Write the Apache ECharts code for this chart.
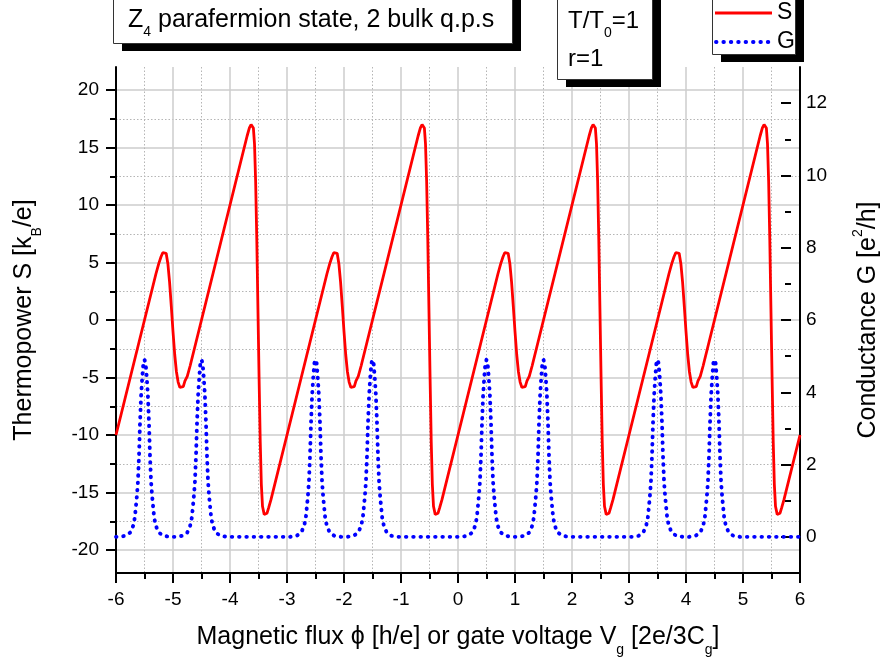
<!DOCTYPE html>
<html>
<head>
<meta charset="utf-8">
<script src="https://cdn.jsdelivr.net/npm/echarts@6/dist/echarts.min.js"></script>
<style>html,body{margin:0;padding:0;background:#fff}#c{width:889px;height:663px}</style>
</head>
<body>
<div id="c"></div>
<script>
// ---- Data ----
// Thermopower S [kB/e] (left axis)
const sX = [
  -6, -5.5, -5.3, -5.25, -5.21, -5.18, -5.15, -5.12, -5.09, -5.06, -5.03, -5.0, -4.97, -4.94, -4.91, -4.88, -4.85, -4.82, -4.79, -4.75, -4.7, -4.5, -3.7, -3.66, -3.63, -3.61, -3.59, -3.57, -3.55, -3.53, -3.51, -3.49, -3.47, -3.45, -3.43, -3.4, -3.38, -3.35, -3.32, -3.28,
  -3, -2.5, -2.3, -2.25, -2.21, -2.18, -2.15, -2.12, -2.09, -2.06, -2.03, -2.0, -1.97, -1.94, -1.91, -1.88, -1.85, -1.82, -1.79, -1.75, -1.7, -1.5, -0.7, -0.66, -0.63, -0.61, -0.59, -0.57, -0.55, -0.53, -0.51, -0.49, -0.47, -0.45, -0.43, -0.4, -0.38, -0.35, -0.32, -0.28,
  0, 0.5, 0.7, 0.75, 0.79, 0.82, 0.85, 0.88, 0.91, 0.94, 0.97, 1.0, 1.03, 1.06, 1.09, 1.12, 1.15, 1.18, 1.21, 1.25, 1.3, 1.5, 2.3, 2.34, 2.37, 2.39, 2.41, 2.43, 2.45, 2.47, 2.49, 2.51, 2.53, 2.55, 2.57, 2.6, 2.62, 2.65, 2.68, 2.72,
  3, 3.5, 3.7, 3.75, 3.79, 3.82, 3.85, 3.88, 3.91, 3.94, 3.97, 4.0, 4.03, 4.06, 4.09, 4.12, 4.15, 4.18, 4.21, 4.25, 4.3, 4.5, 5.3, 5.34, 5.37, 5.39, 5.41, 5.43, 5.45, 5.47, 5.49, 5.51, 5.53, 5.55, 5.57, 5.6, 5.62, 5.65, 5.68, 5.72,
  6
];
const sY = [
  -10, 0, 4.0, 4.9, 5.5, 5.85, 6.0, 5.8, 4.9, 3.3, 1.2, -1.0, -3.0, -4.5, -5.4, -5.85, -6.0, -5.8, -5.3, -4.9, -4.0, 0, 16.0, 16.7, 17.0, 17.1, 16.7, 15.3, 12.0, 7.0, 1.0, -5.0, -10.5, -14.3, -16.2, -16.9, -17.0, -16.8, -16.3, -15.6,
  -10, 0, 4.0, 4.9, 5.5, 5.85, 6.0, 5.8, 4.9, 3.3, 1.2, -1.0, -3.0, -4.5, -5.4, -5.85, -6.0, -5.8, -5.3, -4.9, -4.0, 0, 16.0, 16.7, 17.0, 17.1, 16.7, 15.3, 12.0, 7.0, 1.0, -5.0, -10.5, -14.3, -16.2, -16.9, -17.0, -16.8, -16.3, -15.6,
  -10, 0, 4.0, 4.9, 5.5, 5.85, 6.0, 5.8, 4.9, 3.3, 1.2, -1.0, -3.0, -4.5, -5.4, -5.85, -6.0, -5.8, -5.3, -4.9, -4.0, 0, 16.0, 16.7, 17.0, 17.1, 16.7, 15.3, 12.0, 7.0, 1.0, -5.0, -10.5, -14.3, -16.2, -16.9, -17.0, -16.8, -16.3, -15.6,
  -10, 0, 4.0, 4.9, 5.5, 5.85, 6.0, 5.8, 4.9, 3.3, 1.2, -1.0, -3.0, -4.5, -5.4, -5.85, -6.0, -5.8, -5.3, -4.9, -4.0, 0, 16.0, 16.7, 17.0, 17.1, 16.7, 15.3, 12.0, 7.0, 1.0, -5.0, -10.5, -14.3, -16.2, -16.9, -17.0, -16.8, -16.3, -15.6,
  -10
];
// Conductance G [e^2/h] (right axis)
const gX = [
  -6,
  -5.95, -5.83, -5.75, -5.7, -5.67, -5.645, -5.63, -5.615, -5.595, -5.58, -5.56, -5.54, -5.52, -5.5, -5.48, -5.46, -5.44, -5.42, -5.405, -5.385, -5.37, -5.355, -5.33, -5.3, -5.25, -5.17, -5.05,
  -4.95, -4.83, -4.75, -4.7, -4.67, -4.645, -4.63, -4.615, -4.595, -4.58, -4.56, -4.54, -4.52, -4.5, -4.48, -4.46, -4.44, -4.42, -4.405, -4.385, -4.37, -4.355, -4.33, -4.3, -4.25, -4.17, -4.05,
  -2.95, -2.83, -2.75, -2.7, -2.67, -2.645, -2.63, -2.615, -2.595, -2.58, -2.56, -2.54, -2.52, -2.5, -2.48, -2.46, -2.44, -2.42, -2.405, -2.385, -2.37, -2.355, -2.33, -2.3, -2.25, -2.17, -2.05,
  -1.95, -1.83, -1.75, -1.7, -1.67, -1.645, -1.63, -1.615, -1.595, -1.58, -1.56, -1.54, -1.52, -1.5, -1.48, -1.46, -1.44, -1.42, -1.405, -1.385, -1.37, -1.355, -1.33, -1.3, -1.25, -1.17, -1.05,
  0.05, 0.17, 0.25, 0.3, 0.33, 0.355, 0.37, 0.385, 0.405, 0.42, 0.44, 0.46, 0.48, 0.5, 0.52, 0.54, 0.56, 0.58, 0.595, 0.615, 0.63, 0.645, 0.67, 0.7, 0.75, 0.83, 0.95,
  1.05, 1.17, 1.25, 1.3, 1.33, 1.355, 1.37, 1.385, 1.405, 1.42, 1.44, 1.46, 1.48, 1.5, 1.52, 1.54, 1.56, 1.58, 1.595, 1.615, 1.63, 1.645, 1.67, 1.7, 1.75, 1.83, 1.95,
  3.05, 3.17, 3.25, 3.3, 3.33, 3.355, 3.37, 3.385, 3.405, 3.42, 3.44, 3.46, 3.48, 3.5, 3.52, 3.54, 3.56, 3.58, 3.595, 3.615, 3.63, 3.645, 3.67, 3.7, 3.75, 3.83, 3.95,
  4.05, 4.17, 4.25, 4.3, 4.33, 4.355, 4.37, 4.385, 4.405, 4.42, 4.44, 4.46, 4.48, 4.5, 4.52, 4.54, 4.56, 4.58, 4.595, 4.615, 4.63, 4.645, 4.67, 4.7, 4.75, 4.83, 4.95,
  6
];
const gY = [
  0,
  0, 0.03, 0.12, 0.3, 0.53, 0.93, 1.2, 1.53, 2.3, 3.1, 3.9, 4.4, 4.8, 4.9, 4.8, 4.4, 3.9, 3.1, 2.3, 1.53, 1.2, 0.93, 0.53, 0.3, 0.12, 0.03, 0,
  0, 0.03, 0.12, 0.3, 0.53, 0.93, 1.2, 1.53, 2.3, 3.1, 3.9, 4.4, 4.8, 4.9, 4.8, 4.4, 3.9, 3.1, 2.3, 1.53, 1.2, 0.93, 0.53, 0.3, 0.12, 0.03, 0,
  0, 0.03, 0.12, 0.3, 0.53, 0.93, 1.2, 1.53, 2.3, 3.1, 3.9, 4.4, 4.8, 4.9, 4.8, 4.4, 3.9, 3.1, 2.3, 1.53, 1.2, 0.93, 0.53, 0.3, 0.12, 0.03, 0,
  0, 0.03, 0.12, 0.3, 0.53, 0.93, 1.2, 1.53, 2.3, 3.1, 3.9, 4.4, 4.8, 4.9, 4.8, 4.4, 3.9, 3.1, 2.3, 1.53, 1.2, 0.93, 0.53, 0.3, 0.12, 0.03, 0,
  0, 0.03, 0.12, 0.3, 0.53, 0.93, 1.2, 1.53, 2.3, 3.1, 3.9, 4.4, 4.8, 4.9, 4.8, 4.4, 3.9, 3.1, 2.3, 1.53, 1.2, 0.93, 0.53, 0.3, 0.12, 0.03, 0,
  0, 0.03, 0.12, 0.3, 0.53, 0.93, 1.2, 1.53, 2.3, 3.1, 3.9, 4.4, 4.8, 4.9, 4.8, 4.4, 3.9, 3.1, 2.3, 1.53, 1.2, 0.93, 0.53, 0.3, 0.12, 0.03, 0,
  0, 0.03, 0.12, 0.3, 0.53, 0.93, 1.2, 1.53, 2.3, 3.1, 3.9, 4.4, 4.8, 4.9, 4.8, 4.4, 3.9, 3.1, 2.3, 1.53, 1.2, 0.93, 0.53, 0.3, 0.12, 0.03, 0,
  0, 0.03, 0.12, 0.3, 0.53, 0.93, 1.2, 1.53, 2.3, 3.1, 3.9, 4.4, 4.8, 4.9, 4.8, 4.4, 3.9, 3.1, 2.3, 1.53, 1.2, 0.93, 0.53, 0.3, 0.12, 0.03, 0,
  0
];
// Axis ranges / tick spacing
const xRange = [-6, 6], xStep = 1;
const sRange = [-22, 22], sTickRange = [-20, 20], sStep = 5;
const gRange = [-1, 13], gTickRange = [0, 12], gStep = 2;
// Texts
const xTitle = 'Magnetic flux \u03d5 [h/e] or gate voltage V{sub|g} [2e/3C{sub|g}]';
const sTitle = 'Thermopower S [k{sub|B}/e]';
const gTitle = 'Conductance G [e{sup|2}/h]';
const boxTitle = 'Z{sub|4} parafermion state, 2 bulk q.p.s';
const boxParam1 = 'T/T{sub|0}=1';
const boxParam2 = 'r=1';
const legendNames = ['S', 'G'];

// ---- Styling ----
const FONT = '"Liberation Sans", Arial, Helvetica, sans-serif';
const BLACK = '#000';
const richSub = {
  sub: { fontSize: 14, fontFamily: FONT, color: BLACK, padding: [25, 0, 0, 0] },
  sup: { fontSize: 14, fontFamily: FONT, color: BLACK, padding: [0, 0, 21, 0] }
};
const nameStyle = { fontSize: 25, fontFamily: FONT, color: BLACK, rich: richSub };
const tickLine = { color: BLACK, width: 2 };
const labelStyle = { color: BLACK, fontSize: 19, fontFamily: FONT };
const majorGrid = { color: '#cccccc', width: 1.5, type: 'solid' };
const minorGrid = { color: '#b5b5b5', width: 1, type: [1.5, 2] };

const plot = { left: 116, right: 89, top: 67, bottom: 90 };
const plotH = 663 - plot.top - plot.bottom;
const sPx = plotH / (sRange[1] - sRange[0]);
const gPx = plotH / (gRange[1] - gRange[0]);

const chart = echarts.init(document.getElementById('c'), null, { renderer: 'canvas' });

const option = {
  animation: false,
  backgroundColor: '#fff',
  textStyle: { fontFamily: FONT },
  grid: [
    { left: plot.left, right: plot.right, top: plot.top, bottom: plot.bottom },
    { left: plot.left, right: plot.right,
      top: plot.top + (sRange[1] - sTickRange[1]) * sPx,
      bottom: plot.bottom + (sTickRange[0] - sRange[0]) * sPx },
    { left: plot.left, right: plot.right,
      top: plot.top + (gRange[1] - gTickRange[1]) * gPx,
      bottom: plot.bottom + (gTickRange[0] - gRange[0]) * gPx }
  ],
  xAxis: [
    {
      gridIndex: 0, type: 'value', min: xRange[0], max: xRange[1], interval: xStep, position: 'bottom',
      axisLine: { onZero: false, lineStyle: tickLine },
      axisTick: { show: true, length: 10, lineStyle: tickLine },
      minorTick: { show: true, splitNumber: 2, length: 6, lineStyle: tickLine },
      axisLabel: Object.assign({ margin: 17 }, labelStyle),
      splitLine: { show: true, lineStyle: majorGrid },
      minorSplitLine: { show: true, lineStyle: minorGrid },
      name: xTitle, nameLocation: 'middle', nameGap: 45,
      nameTextStyle: nameStyle
    },
    { gridIndex: 1, type: 'value', min: xRange[0], max: xRange[1], show: false },
    { gridIndex: 2, type: 'value', min: xRange[0], max: xRange[1], show: false }
  ],
  yAxis: [
    {
      gridIndex: 0, type: 'value', min: sRange[0], max: sRange[1], position: 'left',
      axisLine: { show: true, onZero: false, lineStyle: tickLine },
      axisTick: { show: false }, axisLabel: { show: false }, splitLine: { show: false }
    },
    {
      gridIndex: 0, type: 'value', min: gRange[0], max: gRange[1], position: 'right',
      axisLine: { show: true, onZero: false, lineStyle: tickLine },
      axisTick: { show: false }, axisLabel: { show: false }, splitLine: { show: false }
    },
    {
      gridIndex: 1, type: 'value', min: sTickRange[0], max: sTickRange[1], interval: sStep, position: 'left',
      axisLine: { show: false, onZero: false },
      axisTick: { show: true, length: 10, lineStyle: tickLine },
      minorTick: { show: true, splitNumber: 2, length: 6, lineStyle: tickLine },
      axisLabel: Object.assign({ margin: 17 }, labelStyle),
      splitLine: { show: true, lineStyle: majorGrid },
      minorSplitLine: { show: true, lineStyle: minorGrid },
      name: sTitle, nameLocation: 'middle', nameRotate: 90, nameGap: 72,
      nameTextStyle: nameStyle
    },
    {
      gridIndex: 2, type: 'value', min: gTickRange[0], max: gTickRange[1], interval: gStep, position: 'right',
      axisLine: { show: false, onZero: false },
      axisTick: { show: true, inside: true, length: 10, lineStyle: tickLine },
      minorTick: { show: true, splitNumber: 2, length: 6, lineStyle: tickLine },
      axisLabel: Object.assign({ margin: 15 }, labelStyle),
      splitLine: { show: false },
      name: gTitle, nameLocation: 'middle', nameRotate: 90, nameGap: 60,
      nameTextStyle: nameStyle
    }
  ],
  series: [
    {
      name: legendNames[0], type: 'line', xAxisIndex: 0, yAxisIndex: 0,
      data: sX.map((x, i) => [x, sY[i]]),
      symbol: 'none', showSymbol: false, smooth: false, z: 3,
      lineStyle: { color: '#ff0000', width: 2.8 }
    },
    {
      name: legendNames[1], type: 'line', xAxisIndex: 0, yAxisIndex: 1,
      data: gX.map((x, i) => [x, gY[i]]),
      symbol: 'none', showSymbol: false, smooth: false, z: 4,
      lineStyle: { color: '#0000ff', width: 3.9, type: [0.5, 6.8], cap: 'round' }
    }
  ],
  graphic: {
    elements: [
      // title box
      { type: 'rect', z: 100, shape: { x: 122, y: -2, width: 399, height: 53 }, style: { fill: '#000' } },
      { type: 'rect', z: 101, shape: { x: 113.5, y: -10, width: 399, height: 53.5 }, style: { fill: '#fff', stroke: '#333', lineWidth: 1 } },
      { type: 'text', z: 102, style: { text: boxTitle, x: 128, y: 20, fill: BLACK, fontSize: 25, fontFamily: FONT, verticalAlign: 'middle', align: 'left', rich: richSub } },
      // parameter box
      { type: 'rect', z: 100, shape: { x: 566, y: -2, width: 95, height: 89 }, style: { fill: '#000' } },
      { type: 'rect', z: 101, shape: { x: 557.5, y: -10, width: 95, height: 89.5 }, style: { fill: '#fff', stroke: '#333', lineWidth: 1 } },
      { type: 'text', z: 102, style: { text: boxParam1, x: 568, y: 21, fill: BLACK, fontSize: 24, fontFamily: FONT, verticalAlign: 'middle', align: 'left', rich: richSub } },
      { type: 'text', z: 102, style: { text: boxParam2, x: 568, y: 59, fill: BLACK, fontSize: 24, fontFamily: FONT, verticalAlign: 'middle', align: 'left' } },
      // legend box
      { type: 'rect', z: 100, shape: { x: 721, y: -2, width: 83, height: 64 }, style: { fill: '#000' } },
      { type: 'rect', z: 101, shape: { x: 712.5, y: -10, width: 83, height: 64.5 }, style: { fill: '#fff', stroke: '#333', lineWidth: 1 } },
      { type: 'line', z: 102, shape: { x1: 715, y1: 13, x2: 772, y2: 13 }, style: { stroke: '#ff0000', lineWidth: 2.8 } },
      { type: 'line', z: 102, shape: { x1: 716, y1: 42, x2: 772, y2: 42 }, style: { stroke: '#0000ff', lineWidth: 3.9, lineDash: [0.5, 6.9], lineCap: 'round' } },
      { type: 'text', z: 102, style: { text: legendNames[0], x: 777, y: 13, fill: BLACK, fontSize: 23, fontFamily: FONT, verticalAlign: 'middle', align: 'left' } },
      { type: 'text', z: 102, style: { text: legendNames[1], x: 777, y: 42, fill: BLACK, fontSize: 23, fontFamily: FONT, verticalAlign: 'middle', align: 'left' } }
    ]
  }
};
chart.setOption(option);
</script>
</body>
</html>
